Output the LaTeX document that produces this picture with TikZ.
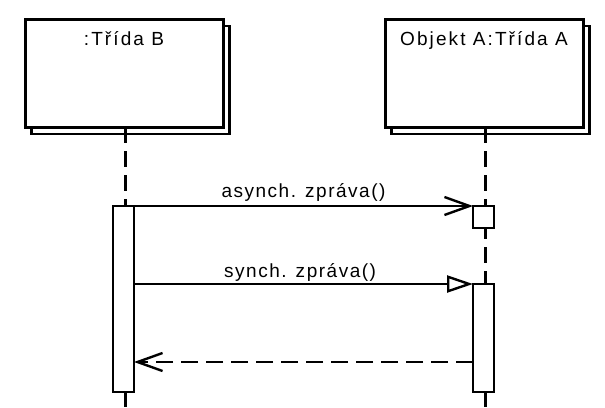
\documentclass[tikz,border=0pt]{standalone}
\usepackage{fontspec}
\setmainfont{Liberation Sans}
\newfontfamily\boxfont[LetterSpace=11]{Liberation Sans}
\newfontfamily\msgfont[LetterSpace=8]{Liberation Sans}
\usetikzlibrary{arrows.meta,shadows,calc}
\begin{document}
\begin{tikzpicture}[x=1pt,y=-1pt,
  objbox/.style={draw, line width=3pt, fill=white, minimum width=198pt, minimum height=108pt, inner sep=0pt, outer sep=0pt,
    copy shadow={shadow xshift=6.5pt, shadow yshift=-7pt, line width=2.2pt}},
  objlabel/.style={font=\boxfont\fontsize{19}{21}\selectfont, anchor=base, inner sep=0pt},
  msglabel/.style={font=\msgfont\fontsize{19}{21}\selectfont, anchor=base, inner sep=0pt},
  lifeline/.style={line width=3pt, dash pattern=on 16pt off 8pt},
  act/.style={draw, line width=2.6pt, fill=white, minimum width=21pt, inner sep=0pt, outer sep=0pt},
  msg/.style={line width=2.4pt},
  barb/.style={-{Straight Barb[length=25pt, width=18pt, line width=2.4pt]}},
  tri/.style={-{Triangle[open, length=26pt, width=17pt, line width=2.4pt, fill=white]}}
]
\useasboundingbox (0,0) rectangle (605,407);
% objects
\node[objbox] (objB) at (124,73) {};
\node[objbox] (objA) at (484,73) {};
\node[objlabel] (labB) at ($(objB.north)+(0,26.5)$) {:Třída B};
\node[objlabel] (labA) at ($(objA.north)+(0,26.5)$) {Objekt A:Třída A};
% lifelines
\coordinate (endB) at (125,410);
\coordinate (endA) at (485,410);
\draw[lifeline] (objB.south -| endB) -- (endB);
\draw[lifeline] (objA.south -| endA) -- (endA);
% activations
\node[act, minimum height=186pt] (actB) at (123.5,299) {};
\node[act, minimum height=22pt] (smallA) at (483.5,217) {};
\node[act, minimum height=108pt] (actA) at (483.5,338) {};
% messages
\draw[msg, barb] (actB.north east) -- node[msglabel, pos=0.5, yshift=9pt] (m1) {asynch. zpráva()} (smallA.north west);
\draw[msg, tri] (actB.east |- actA.north) -- node[msglabel, pos=0.49, yshift=7pt] (m2) {synch. zpráva()} (actA.north west);
\coordinate (ret) at (473,362);
\draw[msg, barb, dash pattern=on 17pt off 8pt] (actA.west |- ret) -- (actB.east |- ret);
\end{tikzpicture}
\end{document}
